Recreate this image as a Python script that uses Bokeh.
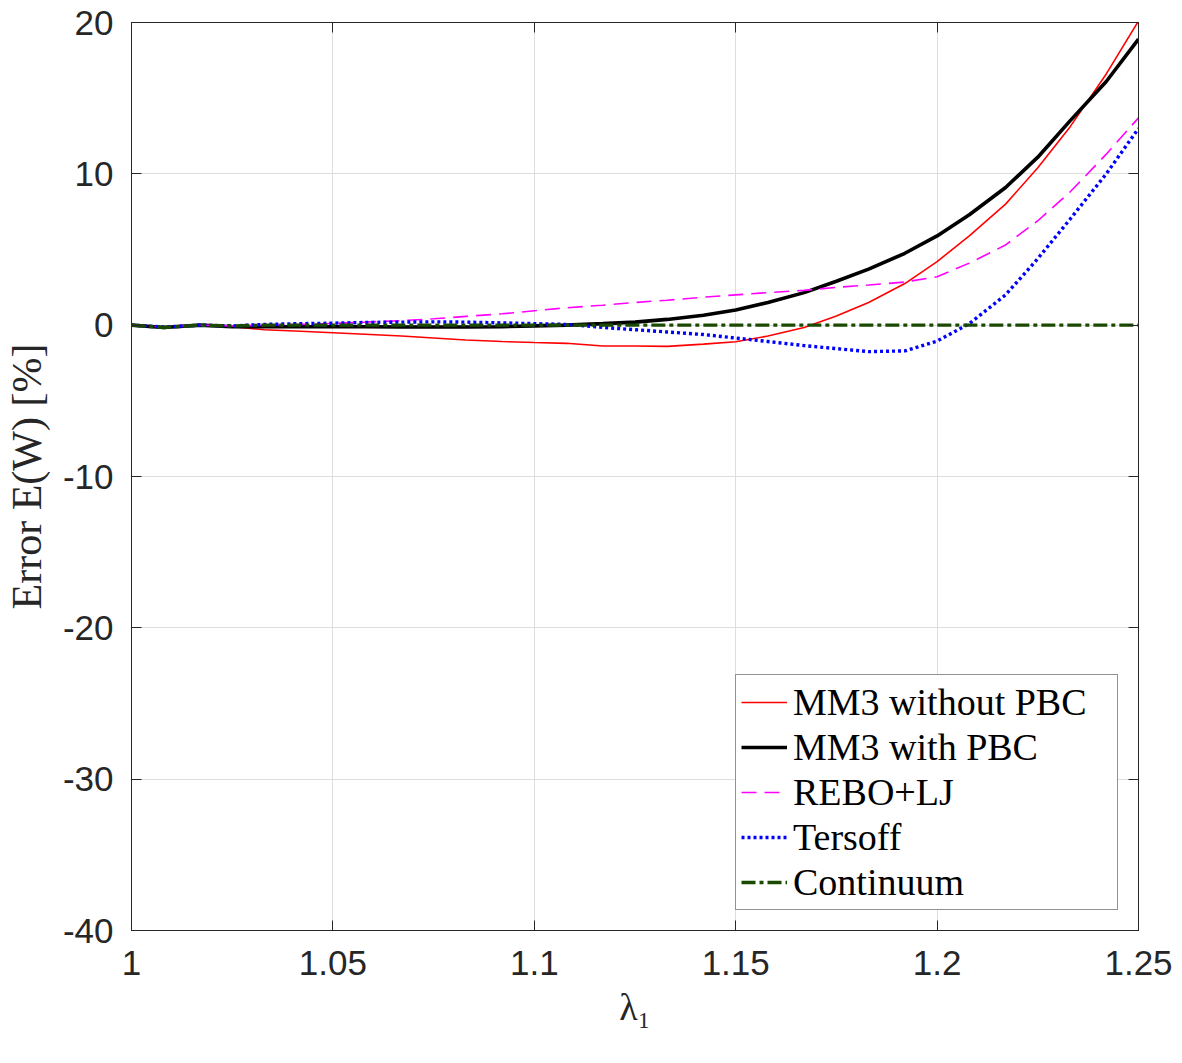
from bokeh.plotting import figure
from bokeh.models import (Range1d, FixedTicker, LinearAxis, CustomJSTickFormatter,
                          Legend, LegendItem)
from bokeh.embed import file_html
from bokeh.resources import INLINE

# ---------------- data ----------------
lam = [1.000, 1.008, 1.017, 1.025, 1.033, 1.042, 1.050, 1.058, 1.067, 1.075,
       1.083, 1.092, 1.100, 1.108, 1.117, 1.125, 1.133, 1.142, 1.150, 1.158,
       1.167, 1.175, 1.183, 1.192, 1.200, 1.208, 1.217, 1.225, 1.233, 1.242,
       1.250]

mm3_no_pbc = [0.0, -0.15, 0.0, -0.1, -0.3, -0.4, -0.5, -0.6, -0.72, -0.85,
              -0.98, -1.08, -1.15, -1.2, -1.38, -1.38, -1.4, -1.25, -1.1, -0.72,
              -0.15, 0.6, 1.5, 2.75, 4.2, 5.9, 8.0, 10.4, 13.1, 16.6,
              20.1]

mm3_pbc = [0.0, -0.15, 0.0, -0.1, -0.1, -0.1, -0.1, -0.1, -0.12, -0.12,
           -0.12, -0.1, -0.05, 0.0, 0.1, 0.2, 0.38, 0.65, 1.0, 1.5,
           2.15, 2.9, 3.7, 4.75, 5.9, 7.3, 9.1, 11.1, 13.5, 16.1,
           18.9]

rebo_lj = [0.0, -0.12, 0.0, -0.05, 0.0, 0.05, 0.12, 0.2, 0.3, 0.42,
           0.58, 0.75, 0.95, 1.15, 1.32, 1.5, 1.65, 1.85, 2.0, 2.15,
           2.3, 2.5, 2.65, 2.85, 3.2, 4.1, 5.3, 6.9, 8.8, 11.3,
           13.7]

tersoff = [0.0, -0.12, 0.0, -0.05, 0.05, 0.1, 0.13, 0.18, 0.2, 0.22,
           0.2, 0.15, 0.1, 0.05, -0.15, -0.3, -0.45, -0.62, -0.85, -1.08,
           -1.35, -1.55, -1.75, -1.7, -1.05, 0.1, 2.0, 4.4, 7.0, 10.0,
           13.0]

continuum = [0.0, -0.15, 0.0, -0.05, 0.0, 0.0, 0.0, 0.0, 0.0, 0.0,
             0.0, 0.0, 0.0, 0.0, 0.0, 0.0, 0.0, 0.0, 0.0, 0.0,
             0.0, 0.0, 0.0, 0.0, 0.0, 0.0, 0.0, 0.0, 0.0, 0.0,
             0.0]

series_names = ["MM3 without PBC", "MM3 with PBC", "REBO+LJ", "Tersoff", "Continuum"]

x_ticks = [1.0, 1.05, 1.1, 1.15, 1.2, 1.25]
y_ticks = [-40, -30, -20, -10, 0, 10, 20]

# ---------------- figure ----------------
AX = "#262626"
p = figure(width=1182, height=1063, output_backend="svg", toolbar_location=None,
           x_range=Range1d(1.0, 1.25), y_range=Range1d(-40, 20),
           min_border_left=130, min_border_right=44,
           min_border_top=22, min_border_bottom=133)
p.background_fill_color = "white"
p.border_fill_color = "white"
p.outline_line_color = AX
p.outline_line_width = 1

xfmt = CustomJSTickFormatter(code="return String(parseFloat(tick.toFixed(2)));")
yfmt = CustomJSTickFormatter(code="return tick.toFixed(0);")

def style_axis(ax, labels=True):
    ax.axis_line_color = AX
    ax.axis_line_width = 1
    ax.major_tick_line_color = AX
    ax.major_tick_line_width = 1
    ax.major_tick_in = 10
    ax.major_tick_out = 0
    ax.minor_tick_line_color = None
    if labels:
        ax.major_label_text_font = "Liberation Sans"
        ax.major_label_text_font_size = "35px"
        ax.major_label_text_color = AX
    else:
        ax.major_label_text_font_size = "0px"
        ax.major_label_standoff = 0

p.xaxis.ticker = FixedTicker(ticks=x_ticks)
p.yaxis.ticker = FixedTicker(ticks=y_ticks)
p.xaxis.formatter = xfmt
p.yaxis.formatter = yfmt
style_axis(p.xaxis[0])
style_axis(p.yaxis[0])
p.xaxis.major_label_standoff = 20
p.yaxis.major_label_standoff = 18

p.xaxis.axis_label = "λ₁"
p.yaxis.axis_label = "Error E(W) [%]"
for ax in (p.xaxis[0], p.yaxis[0]):
    ax.axis_label_text_font = "Liberation Serif"
    ax.axis_label_text_font_style = "normal"
    ax.axis_label_text_color = AX
p.xaxis.axis_label_text_font_size = "38px"
p.yaxis.axis_label_text_font_size = "42px"
p.xaxis.axis_label_standoff = 8
p.yaxis.axis_label_standoff = 10

top_ax = LinearAxis(ticker=FixedTicker(ticks=x_ticks),
                    formatter=CustomJSTickFormatter(code="return '';"))
right_ax = LinearAxis(ticker=FixedTicker(ticks=y_ticks),
                      formatter=CustomJSTickFormatter(code="return '';"))
style_axis(top_ax, labels=False)
style_axis(right_ax, labels=False)
p.add_layout(top_ax, "above")
p.add_layout(right_ax, "right")

p.xgrid.ticker = FixedTicker(ticks=x_ticks)
p.ygrid.ticker = FixedTicker(ticks=y_ticks)
for g in (p.xgrid[0], p.ygrid[0]):
    g.grid_line_color = "#dedede"
    g.grid_line_width = 1

# ---------------- lines ----------------
r1 = p.line(lam, mm3_no_pbc, line_color="#ff0000", line_width=1.6)
r2 = p.line(lam, mm3_pbc, line_color="#000000", line_width=3.6)
r3 = p.line(lam, rebo_lj, line_color="#ff00ff", line_width=1.6, line_dash="15 8")
r4 = p.line(lam, tersoff, line_color="#0000ff", line_width=3.4, line_dash="3 3")
r5 = p.line(lam, continuum, line_color="#1a4a00", line_width=3.4, line_dash="14 4 4 4")

legend = Legend(items=[LegendItem(label=n, renderers=[r]) for n, r in
                       zip(series_names, [r1, r2, r3, r4, r5])],
                location="bottom_right", margin=20, padding=5, spacing=1,
                glyph_width=46, glyph_height=30, label_height=40,
                label_width=319, label_standoff=6,
                label_text_font="Liberation Serif", label_text_font_size="38px",
                label_text_color="black",
                border_line_color=AX, border_line_width=1,
                background_fill_color="white", background_fill_alpha=1.0)
p.add_layout(legend)

open("out.html", "w").write(file_html(p, INLINE))
